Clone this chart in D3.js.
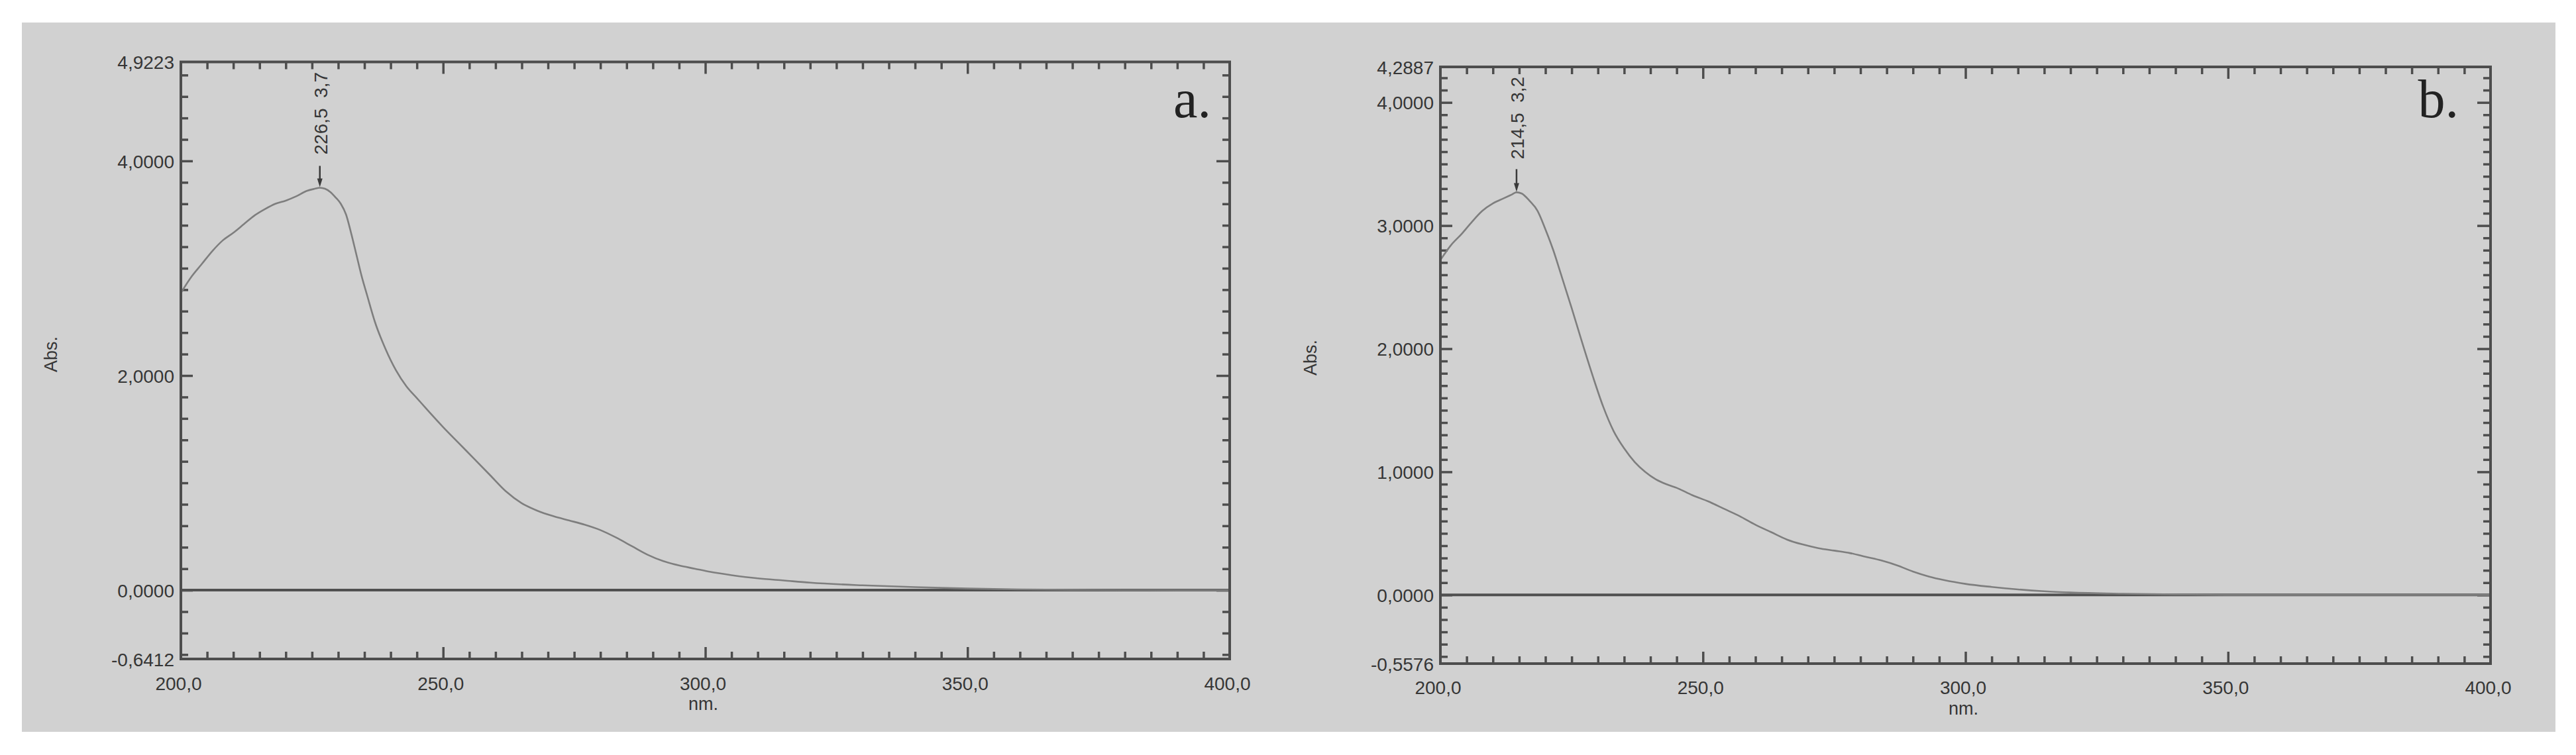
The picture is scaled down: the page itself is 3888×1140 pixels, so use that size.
<!DOCTYPE html>
<html><head><meta charset="utf-8">
<script src="https://cdn.jsdelivr.net/npm/d3@7"></script>
<style>
html,body{margin:0;padding:0;background:#fff;}
svg{display:block;}
</style></head><body>
<svg id="chart" width="3888" height="1140"></svg>
<script>
// ---------- DATA ----------
const wavelengthA = [200,202,204,206,208,210,212,214,216,218,220,222,224,225.5,226.5,227.5,228.5,229.5,230.5,231.5,232.5,233.5,234.5,235.5,237,239,241,243,245,247,250,253,256,259,262,265,268,271,274,277,280,283,286,289,292,295,298,301,305,310,315,320,330,340,350,360,370,380,390,400];
const absorbanceA = [2.77,2.92,3.04,3.16,3.26,3.33,3.41,3.49,3.55,3.60,3.63,3.67,3.72,3.74,3.75,3.74,3.71,3.66,3.60,3.50,3.32,3.12,2.92,2.75,2.50,2.25,2.05,1.90,1.79,1.68,1.52,1.37,1.22,1.07,0.92,0.81,0.74,0.69,0.65,0.61,0.56,0.49,0.41,0.33,0.27,0.23,0.20,0.17,0.14,0.11,0.09,0.07,0.045,0.028,0.015,0.007,0.003,0.001,0,0];

const wavelengthB = [200,202,204,206,208,210,212,213.5,214.5,215.5,217,218.5,220,221.5,223,225,227,229,231,233,235,237,239,241,243,245,248,251,254,257,260,263,266,269,272,275,278,281,284,287,290,293,296,300,305,310,315,320,330,340,350,400];
const absorbanceB = [2.72,2.84,2.93,3.03,3.12,3.18,3.22,3.25,3.27,3.26,3.20,3.12,2.97,2.80,2.60,2.33,2.05,1.78,1.53,1.33,1.19,1.08,1.00,0.94,0.90,0.87,0.81,0.76,0.70,0.64,0.57,0.51,0.45,0.41,0.38,0.36,0.34,0.31,0.28,0.24,0.19,0.15,0.12,0.09,0.065,0.045,0.03,0.02,0.01,0.004,0,0];

const xDomain = [200, 400];
const xTickLabels = [200, 250, 300, 350, 400];
const xMajorTicks = [250, 300, 350];
const xMinorStep = 5;

const yDomainA = [-0.6412, 4.9223];
const yTickLabelsA = [-0.6412, 0, 2, 4, 4.9223];
const yMajorTicksA = [0, 2, 4];
const yMinorStepA = 0.2;

const yDomainB = [-0.5576, 4.2887];
const yTickLabelsB = [-0.5576, 0, 1, 2, 3, 4, 4.2887];
const yMajorTicksB = [0, 1, 2, 3, 4];
const yMinorStepB = 0.1;

const peakA = [226.5, 3.75];
const peakLabelA = "226,5  3,7";
const peakB = [214.5, 3.27];
const peakLabelB = "214,5  3,2";

const panelNames = ["a.", "b."];
const xTitle = "nm.";
const yTitle = "Abs.";

// ---------- DRAW ----------
const svg = d3.select("#chart");
const AX = "#4d4d4d", TXT = "#363636", CURVE = "#7e7e7e";
const FONT = "'Liberation Sans', Arial, sans-serif";
const loc = d3.formatLocale({decimal: ",", thousands: ".", grouping: [3], currency: ["", ""], minus: "-"});
const fmtY = loc.format(".4f");
const fmtX = loc.format(".1f");

svg.append("rect").attr("x", 33).attr("y", 34).attr("width", 3824).attr("height", 1071).attr("fill", "#d1d1d1");

function minorTicks(domain, step, majors) {
  const out = [];
  const start = Math.ceil(domain[0] / step - 1e-9), end = Math.floor(domain[1] / step + 1e-9);
  for (let i = start; i <= end; i++) {
    const v = Math.round(i * step * 1e6) / 1e6;
    if (v <= domain[0] + 1e-9 || v >= domain[1] - 1e-9) continue;
    if (majors.some(m => Math.abs(m - v) < 1e-9)) continue;
    out.push(v);
  }
  return out;
}

function styleAxis(g) {
  g.select(".domain").remove();
  g.attr("color", AX).attr("font-family", FONT).attr("font-size", 28);
  g.selectAll(".tick line").attr("stroke-width", 3.5);
  g.selectAll("text").attr("fill", TXT);
}

function drawPanel(cfg) {
  const g = svg.append("g");
  const x = d3.scaleLinear().domain(xDomain).range([cfg.left, cfg.right]);
  const y = d3.scaleLinear().domain(cfg.yDomain).range([cfg.bottom, cfg.top]);

  const xMinor = minorTicks(xDomain, xMinorStep, xMajorTicks.concat(xDomain));
  const yMinor = minorTicks(cfg.yDomain, cfg.yStep, cfg.yMajor);

  // bottom & top ticks
  g.append("g").attr("transform", `translate(0,${cfg.bottom})`)
    .call(d3.axisBottom(x).tickValues(xMinor).tickSize(-11).tickFormat("")).call(styleAxis);
  g.append("g").attr("transform", `translate(0,${cfg.bottom})`)
    .call(d3.axisBottom(x).tickValues(xMajorTicks).tickSize(-18).tickFormat("")).call(styleAxis);
  g.append("g").attr("transform", `translate(0,${cfg.top})`)
    .call(d3.axisTop(x).tickValues(xMinor).tickSize(-11).tickFormat("")).call(styleAxis);
  g.append("g").attr("transform", `translate(0,${cfg.top})`)
    .call(d3.axisTop(x).tickValues(xMajorTicks).tickSize(-18).tickFormat("")).call(styleAxis);
  // left & right ticks
  g.append("g").attr("transform", `translate(${cfg.left},0)`)
    .call(d3.axisLeft(y).tickValues(yMinor).tickSize(-11).tickFormat("")).call(styleAxis);
  g.append("g").attr("transform", `translate(${cfg.left},0)`)
    .call(d3.axisLeft(y).tickValues(cfg.yMajor).tickSize(-18).tickFormat("")).call(styleAxis);
  g.append("g").attr("transform", `translate(${cfg.right},0)`)
    .call(d3.axisRight(y).tickValues(yMinor).tickSize(-11).tickFormat("")).call(styleAxis);
  g.append("g").attr("transform", `translate(${cfg.right},0)`)
    .call(d3.axisRight(y).tickValues(cfg.yMajor).tickSize(-20).tickFormat("")).call(styleAxis);

  // labels
  const yl = g.append("g").attr("transform", `translate(${cfg.left},0)`)
    .call(d3.axisLeft(y).tickValues(cfg.yLabels).tickSize(0).tickPadding(10).tickFormat(fmtY)).call(styleAxis);
  yl.selectAll("text").attr("dy", "0.36em");
  const xl = g.append("g").attr("transform", `translate(0,${cfg.bottom})`)
    .call(d3.axisBottom(x).tickValues(xTickLabels).tickSize(0).tickPadding(cfg.xPad).tickFormat(fmtX)).call(styleAxis);
  xl.selectAll("text").attr("dx", -4);

  // zero line
  g.append("line").attr("x1", x(xDomain[0])).attr("x2", x(xDomain[1]))
    .attr("y1", y(0)).attr("y2", y(0)).attr("stroke", "#505050").attr("stroke-width", 4);

  // curve
  const pts = cfg.wl.map((w, i) => [w, cfg.ab[i]]);
  g.append("path").datum(pts)
    .attr("d", d3.line().x(d => x(d[0])).y(d => y(d[1])).curve(d3.curveMonotoneX))
    .attr("fill", "none").attr("stroke", CURVE).attr("stroke-width", 2.6).attr("stroke-linejoin", "round");

  // frame
  g.append("rect").attr("x", cfg.left).attr("y", cfg.top)
    .attr("width", cfg.right - cfg.left).attr("height", cfg.bottom - cfg.top)
    .attr("fill", "none").attr("stroke", AX).attr("stroke-width", 4);

  // peak marker
  const px = x(cfg.peak[0]), py = y(cfg.peak[1]);
  g.append("line").attr("x1", px).attr("x2", px).attr("y1", py - cfg.arrowLen).attr("y2", py - 8)
    .attr("stroke", "#3a3a3a").attr("stroke-width", 2.5);
  g.append("path").attr("d", `M${px - 4},${py - 14}L${px + 4},${py - 14}L${px},${py - 1}Z`).attr("fill", "#3a3a3a");
  g.append("text").attr("transform", `translate(${px + 11},${py - 50}) rotate(-90)`)
    .style("white-space", "pre").attr("font-family", FONT).attr("font-size", 28).attr("fill", TXT)
    .text(cfg.peakLabel);

  // axis titles
  g.append("text").attr("transform", `translate(${cfg.left - 187},${cfg.absY}) rotate(-90)`)
    .attr("text-anchor", "middle").attr("font-family", FONT).attr("font-size", 27).attr("fill", TXT).text(yTitle);
  g.append("text").attr("x", (cfg.left + cfg.right) / 2 - 3).attr("y", cfg.bottom + cfg.nmOff)
    .attr("text-anchor", "middle").attr("font-family", FONT).attr("font-size", 27).attr("fill", TXT).text(xTitle);

  // panel name
  g.append("text").attr("x", cfg.nameX).attr("y", 177).attr("text-anchor", "end")
    .attr("font-family", "'Liberation Serif', 'Times New Roman', serif").attr("font-size", 82).attr("fill", "#222")
    .text(cfg.name);
}

drawPanel({left: 273, right: 1856, top: 93.5, bottom: 995, yDomain: yDomainA, yLabels: yTickLabelsA,
  yMajor: yMajorTicksA, yStep: yMinorStepA, wl: wavelengthA, ab: absorbanceA, peak: peakA, peakLabel: peakLabelA,
  arrowLen: 33, xPad: 27, nmOff: 77, absY: 535, name: panelNames[0], nameX: 1828});
drawPanel({left: 2174, right: 3759, top: 101, bottom: 1002, yDomain: yDomainB, yLabels: yTickLabelsB,
  yMajor: yMajorTicksB, yStep: yMinorStepB, wl: wavelengthB, ab: absorbanceB, peak: peakB, peakLabel: peakLabelB,
  arrowLen: 35, xPad: 26, nmOff: 77, absY: 540, name: panelNames[1], nameX: 3711});
</script>
</body></html>
